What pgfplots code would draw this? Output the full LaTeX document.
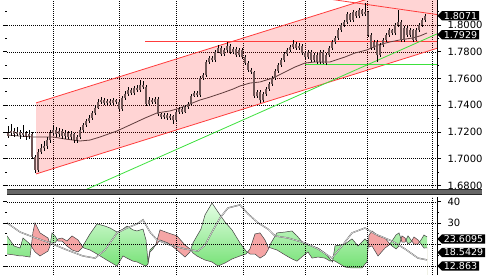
\documentclass[border=0pt]{standalone}
\usepackage{fontspec}
\setmainfont{DejaVu Sans}
\usepackage{pgfplots}
\usepackage{pgfplotstable}
\pgfplotsset{compat=1.18}
\usetikzlibrary{shapes.symbols}
\definecolor{chred}{RGB}{255,60,60}
\definecolor{chgreen}{RGB}{60,225,60}
\definecolor{mabrown}{RGB}{95,60,60}
\definecolor{body}{RGB}{110,85,85}
\definecolor{gtop}{RGB}{228,254,228}
\definecolor{gbot}{RGB}{105,222,105}
\definecolor{dred}{RGB}{245,165,165}

\pgfplotstableread{
x o h l c
8 1.7170 1.7245 1.7155 1.7193
11 1.7193 1.7260 1.7170 1.7208
14 1.7208 1.7230 1.7165 1.7185
17 1.7185 1.7240 1.7170 1.7200
20 1.7200 1.7215 1.7150 1.7178
23 1.7178 1.7253 1.7160 1.7193
26 1.7193 1.7210 1.7140 1.7170
29 1.7170 1.7215 1.7150 1.7185
32 1.7185 1.7200 1.7000 1.7013
35 1.7013 1.7030 1.6893 1.6916
38 1.6916 1.7070 1.6900 1.7051
41 1.7051 1.7110 1.7035 1.7081
44 1.7081 1.7130 1.7060 1.7096
47 1.7096 1.7160 1.7070 1.7140
50 1.7140 1.7215 1.7120 1.7193
53 1.7193 1.7250 1.7180 1.7215
56 1.7215 1.7240 1.7165 1.7185
59 1.7185 1.7230 1.7160 1.7208
62 1.7208 1.7225 1.7150 1.7170
65 1.7170 1.7215 1.7150 1.7193
68 1.7193 1.7205 1.7145 1.7163
71 1.7163 1.7205 1.7140 1.7185
74 1.7185 1.7195 1.7120 1.7140
77 1.7140 1.7180 1.7115 1.7163
80 1.7163 1.7235 1.7150 1.7215
83 1.7215 1.7270 1.7200 1.7253
86 1.7253 1.7300 1.7240 1.7283
89 1.7283 1.7325 1.7270 1.7305
92 1.7305 1.7360 1.7290 1.7343
95 1.7343 1.7400 1.7330 1.7380
98 1.7380 1.7450 1.7370 1.7425
101 1.7425 1.7460 1.7410 1.7440
104 1.7440 1.7455 1.7405 1.7417
107 1.7417 1.7450 1.7400 1.7432
110 1.7432 1.7445 1.7405 1.7417
113 1.7417 1.7455 1.7405 1.7440
116 1.7440 1.7450 1.7410 1.7425
119 1.7425 1.7440 1.7355 1.7373
122 1.7373 1.7470 1.7360 1.7455
125 1.7455 1.7505 1.7440 1.7485
128 1.7485 1.7535 1.7470 1.7515
131 1.7515 1.7530 1.7480 1.7492
134 1.7492 1.7545 1.7480 1.7530
137 1.7530 1.7550 1.7500 1.7515
140 1.7515 1.7590 1.7500 1.7552
143 1.7552 1.7580 1.7525 1.7537
146 1.7537 1.7550 1.7395 1.7410
149 1.7410 1.7460 1.7395 1.7440
152 1.7440 1.7455 1.7410 1.7425
155 1.7425 1.7465 1.7410 1.7447
158 1.7447 1.7460 1.7320 1.7335
161 1.7335 1.7345 1.7295 1.7313
164 1.7313 1.7340 1.7295 1.7328
167 1.7328 1.7340 1.7290 1.7305
170 1.7305 1.7335 1.7290 1.7320
173 1.7320 1.7330 1.7260 1.7290
176 1.7290 1.7365 1.7275 1.7350
179 1.7350 1.7390 1.7335 1.7373
182 1.7373 1.7385 1.7335 1.7350
185 1.7350 1.7400 1.7340 1.7387
188 1.7387 1.7425 1.7375 1.7410
191 1.7410 1.7485 1.7400 1.7470
194 1.7470 1.7510 1.7460 1.7492
197 1.7492 1.7505 1.7465 1.7477
200 1.7477 1.7620 1.7465 1.7605
203 1.7605 1.7645 1.7590 1.7627
206 1.7627 1.7740 1.7615 1.7725
209 1.7725 1.7770 1.7710 1.7755
212 1.7755 1.7770 1.7725 1.7740
215 1.7740 1.7815 1.7725 1.7800
218 1.7800 1.7852 1.7790 1.7830
221 1.7830 1.7845 1.7770 1.7785
224 1.7785 1.7830 1.7770 1.7815
227 1.7815 1.7875 1.7800 1.7845
230 1.7845 1.7860 1.7785 1.7800
233 1.7800 1.7840 1.7785 1.7822
236 1.7822 1.7835 1.7760 1.7777
239 1.7777 1.7830 1.7765 1.7815
242 1.7815 1.7830 1.7750 1.7762
245 1.7762 1.7775 1.7700 1.7717
248 1.7717 1.7730 1.7650 1.7665
251 1.7665 1.7680 1.7635 1.7650
254 1.7650 1.7660 1.7455 1.7470
257 1.7470 1.7515 1.7455 1.7500
260 1.7500 1.7515 1.7417 1.7440
263 1.7440 1.7500 1.7425 1.7485
266 1.7485 1.7540 1.7470 1.7522
269 1.7522 1.7575 1.7510 1.7560
272 1.7560 1.7620 1.7545 1.7605
275 1.7605 1.7675 1.7590 1.7657
278 1.7657 1.7720 1.7645 1.7702
281 1.7702 1.7755 1.7690 1.7740
284 1.7740 1.7800 1.7725 1.7785
287 1.7785 1.7830 1.7770 1.7815
290 1.7815 1.7855 1.7800 1.7837
293 1.7837 1.7890 1.7825 1.7860
296 1.7860 1.7875 1.7815 1.7830
299 1.7830 1.7865 1.7815 1.7845
302 1.7845 1.7860 1.7780 1.7792
305 1.7792 1.7805 1.7745 1.7762
308 1.7762 1.7815 1.7745 1.7800
311 1.7800 1.7815 1.7725 1.7740
314 1.7740 1.7795 1.7725 1.7777
317 1.7777 1.7790 1.7710 1.7725
320 1.7725 1.7815 1.7710 1.7800
323 1.7800 1.7815 1.7710 1.7717
326 1.7717 1.7790 1.7705 1.7777
329 1.7777 1.7845 1.7765 1.7830
332 1.7830 1.7890 1.7815 1.7875
335 1.7875 1.7920 1.7860 1.7905
338 1.7905 1.7980 1.7890 1.7965
341 1.7965 1.8020 1.7950 1.8002
344 1.8002 1.8040 1.7990 1.8025
347 1.8025 1.8100 1.8010 1.8084
350 1.8084 1.8095 1.8025 1.8040
353 1.8040 1.8115 1.8025 1.8099
356 1.8099 1.8110 1.8055 1.8069
359 1.8069 1.8130 1.8055 1.8114
362 1.8114 1.8125 1.8070 1.8084
365 1.8084 1.8167 1.8070 1.8099
368 1.8099 1.8110 1.7910 1.7927
371 1.7927 1.7940 1.7815 1.7830
374 1.7830 1.7890 1.7815 1.7875
377 1.7875 1.7890 1.7725 1.7777
380 1.7777 1.7865 1.7760 1.7852
383 1.7852 1.7905 1.7840 1.7890
386 1.7890 1.7945 1.7875 1.7927
389 1.7927 1.7980 1.7915 1.7965
392 1.7965 1.7975 1.7930 1.7942
395 1.7942 1.8015 1.7930 1.8002
398 1.8002 1.8114 1.7990 1.8025
401 1.8025 1.8040 1.7875 1.7890
404 1.7890 1.7995 1.7875 1.7980
407 1.7980 1.7995 1.7915 1.7927
410 1.7927 1.7980 1.7915 1.7965
413 1.7965 1.7975 1.7875 1.7890
416 1.7890 1.7980 1.7880 1.7965
419 1.7965 1.8015 1.7950 1.8002
422 1.8002 1.8055 1.7990 1.8040
425 1.8040 1.8085 1.8025 1.8071
}\ohlc

\pgfplotstableread{
x ma
7 1.7178
20 1.7170
33 1.7163
53 1.7163
65 1.7148
80 1.7133
90 1.7140
100 1.7163
117 1.7208
130 1.7253
145 1.7305
157 1.7343
170 1.7358
180 1.7380
190 1.7410
200 1.7440
210 1.7462
222 1.7492
233 1.7522
240 1.7545
250 1.7567
260 1.7575
273 1.7605
285 1.7650
295 1.7687
305 1.7717
315 1.7725
330 1.7725
345 1.7762
355 1.7792
367 1.7815
378 1.7852
390 1.7875
400 1.7890
413 1.7905
420 1.7920
427 1.7942
}\matab

\pgfplotstableread{
x a b
7 24.1 15.6
14 19.4 15.2
20 18.4 14.7
23 23.1 14.7
30 20.3 14.2
33 18.0 25.9
35 16.6 30.2
40 14.7 25.5
48 17.0 23.1
50 19.4 20.3
52 25.5 20.8
55 24.1 20.8
58 21.7 22.7
62 21.7 23.1
67 19.4 21.7
72 17.5 24.1
78 16.6 22.2
82 18.4 19.4
84 20.3 18.4
90 25.0 17.5
97 29.7 15.6
105 28.7 13.3
110 27.8 11.9
117 25.9 10.0
123 27.3 14.7
127 28.7 13.7
133 26.9 12.3
137 26.4 11.9
143 27.3 10.5
146 22.2 10.0
148 11.9 10.9
150 17.5 16.6
153 18.9 18.0
156 19.8 20.3
160 22.2 26.9
168 20.8 25.5
177 17.5 24.1
185 14.2 19.8
190 16.6 18.0
193 20.8 16.1
197 24.1 14.7
201 27.3 13.7
205 33.9 12.8
212 39.5 11.9
218 35.3 10.0
225 30.6 11.4
232 26.9 13.3
240 20.8 14.7
246 17.0 15.6
250 15.6 18.0
255 15.6 25.0
260 13.7 25.5
265 15.2 22.2
268 17.5 18.9
271 20.8 18.4
277 25.5 17.5
285 25.9 15.2
292 26.4 13.3
297 24.1 12.3
303 20.8 14.7
308 19.8 16.6
312 19.4 13.7
318 18.4 14.2
325 16.1 13.7
330 13.3 12.3
332.5 11.9 12.8
335 19.4 12.3
340 19.8 10.9
345 20.3 9.5
352 22.7 9.1
358 19.4 9.1
362 21.2 9.1
365 22.7 10.9
367 21.7 11.9
369 18.9 24.5
372 19.4 26.4
378 14.7 24.1
385 18.4 23.1
389 19.8 20.8
392 21.7 19.4
396 24.5 18.0
399 25.5 19.4
402 21.2 24.1
405 21.2 23.1
408 24.1 20.3
411 22.2 21.2
414 20.3 23.6
418 20.3 22.2
421 22.2 20.3
424 24.5 18.4
427 23.61 18.54
}\dmi

% lower of the two lines, with the crossing points
\pgfplotstableread{
x m
7 15.6
14 15.2
20 14.7
23 14.7
30 14.2
31.31 19.30
33 18.0
35 16.6
40 14.7
48 17.0
50 19.4
50.32 20.38
52 20.8
55 20.8
57.30 22.26
58 21.7
62 21.7
67 19.4
72 17.5
78 16.6
82 18.4
82.69 19.06
84 18.4
90 17.5
97 15.6
105 13.3
110 11.9
117 10.0
123 14.7
127 13.7
133 12.3
137 11.9
143 10.5
146 10.0
148 10.9
150 16.6
153 18.0
154.93 19.48
156 19.8
160 22.2
168 20.8
177 17.5
185 14.2
190 16.6
190.69 17.56
193 16.1
197 14.7
201 13.7
205 12.8
212 11.9
218 10.0
225 11.4
232 13.3
240 14.7
246 15.6
247.47 16.48
250 15.6
255 15.6
260 13.7
265 15.2
268 17.5
269.11 18.71
271 18.4
277 17.5
285 15.2
292 13.3
297 12.3
303 14.7
308 16.6
312 13.7
318 14.2
325 13.7
330 12.3
331.32 12.56
332.5 11.9
332.78 12.74
335 12.3
340 10.9
345 9.5
352 9.1
358 9.1
362 9.1
365 10.9
367 11.9
368.27 19.92
369 18.9
372 19.4
378 14.7
385 18.4
389 19.8
389.91 20.38
392 19.4
396 18.0
399 19.4
401.03 22.58
402 21.2
405 21.2
406.0 22.17
408 20.3
411 21.2
411.70 21.76
414 20.3
418 20.3
419.5 21.25
421 20.3
424 18.4
427 18.54
}\dmimin

\pgfplotstableread{
x adx
7 30.2
20 25.9
33 23.6
50 20.8
67 17.5
83 14.7
95 13.7
105 17.5
117 25.5
127 27.8
137 29.7
143 31.6
150 25.9
157 22.2
170 19.8
185 18.0
198 17.0
205 19.8
212 25.9
220 32.5
228 37.2
240 38.6
248 34.4
258 30.2
268 27.3
275 24.1
288 23.1
305 20.8
318 18.0
332 13.7
342 19.4
352 25.5
365 27.8
375 25.0
392 21.7
405 18.0
418 13.7
427 12.86
}\adxtab

\pgfplotsset{
  chartax/.style={
    scale only axis, anchor=south west, width=430pt, xmin=7, xmax=437,
    axis line style={draw=none},
    xtick={53,119,176,243,305,367,432}, xticklabels={}, xtick style={draw=none},
    yticklabel pos=right, ytick align=outside,
    ytick style={black, line width=1pt}, major tick length=4pt, minor tick length=2pt,
    yticklabel style={font=\fontsize{10}{12}\selectfont, xshift=3pt},
    grid=major, grid style={black, line width=0.6pt, dash pattern=on 1pt off 1pt},
    clip=true,
  }
}

\begin{document}
\begin{tikzpicture}[x=1pt,y=1pt]
\path[use as bounding box, clip] (0,0) rectangle (487,275);
\fill[white] (0,0) rectangle (487,275);

% price panel
\begin{axis}[chartax, at={(7pt,85pt)}, height=190pt,
  ymin=1.6766, ymax=1.8189,
  ytick={1.68,1.70,1.72,1.74,1.76,1.78,1.80},
  yticklabels={1.6800,1.7000,1.7200,1.7400,1.7600,1.7800,1.8000},
  minor ytick={1.69,1.71,1.73,1.75,1.77,1.79,1.81},
]
\addplot[fill=red, fill opacity=0.17, draw=none] coordinates {(36,1.7418) (437,1.8359) (437,1.7827) (36,1.6886)} -- cycle;
\addplot[chred, line width=0.8pt] coordinates {(36,1.7418) (437,1.8359)};
\addplot[chred, line width=0.8pt] coordinates {(36,1.6886) (437,1.7827)};
\addplot[chred, line width=0.8pt] coordinates {(330,1.8195) (437,1.8080)};
\addplot[chred, line width=0.8pt] coordinates {(145,1.7882) (437,1.7882)};
\addplot[chgreen, line width=0.8pt] coordinates {(85,1.6766) (437,1.7935)};
\addplot[chgreen, line width=0.8pt] coordinates {(305,1.7710) (437,1.7710)};
\addplot[mabrown, line width=0.8pt] table[x=x,y=ma]{\matab};
% wicks
\addplot[draw=none, mark=none, error bars/.cd, y dir=both, y explicit, error mark=none,
  error bar style={draw=black, line width=0.6pt}]
  table[x=x, y=c, y error plus expr=\thisrow{h}-\thisrow{c}, y error minus expr=\thisrow{c}-\thisrow{l}]{\ohlc};
% bodies (outline, then fill)
\addplot[draw=none, mark=none, error bars/.cd, y dir=both, y explicit, error mark=none,
  error bar style={draw=black!85, line width=2.4pt}]
  table[x=x, y=c, y error plus expr={max(\thisrow{o}-\thisrow{c},0)}, y error minus expr={max(\thisrow{c}-\thisrow{o},0)}]{\ohlc};
\addplot[draw=none, mark=none, error bars/.cd, y dir=both, y explicit, error mark=none,
  error bar style={draw=body, line width=1.2pt}]
  table[x=x, y=c, y error plus expr={max(\thisrow{o}-\thisrow{c},0)}, y error minus expr={max(\thisrow{c}-\thisrow{o},0)}]{\ohlc};
\coordinate (p1) at (axis cs:437,1.8071);
\coordinate (p2) at (axis cs:437,1.7929);
\end{axis}
\draw[black, line width=0.8pt] (437,85) -- (437,275);

% separator
\fill[black!60] (7,80) rectangle (482,85.5);
\draw[black!85, line width=0.6pt] (7,80.3) -- (482,80.3) (7,85.2) -- (482,85.2);

% indicator panel
\begin{axis}[chartax, at={(7pt,0pt)}, height=78pt,
  ymin=5.8, ymax=42.3, axis on top,
  ytick={10,20,30,40}, yticklabels={,,30,40},
  minor ytick={15,25,35},
]
\addplot[top color=gtop, bottom color=gbot, draw=none] table[x=x,y=a]{\dmi} \closedcycle;
\addplot[fill=dred, draw=none] table[x=x,y=b]{\dmi} \closedcycle;
\addplot[fill=white, draw=none] table[x=x,y=m]{\dmimin} \closedcycle;
\addplot[black!75, line width=0.5pt] table[x=x,y=a]{\dmi};
\addplot[black!75, line width=0.5pt] table[x=x,y=b]{\dmi};
\addplot[black!60, line width=1.3pt] table[x=x,y=adx]{\adxtab};
\addplot[white, line width=0.4pt] table[x=x,y=adx]{\adxtab};
\coordinate (q1) at (axis cs:437,22.65);
\coordinate (q2) at (axis cs:437,16.33);
\coordinate (q3) at (axis cs:437,10.01);
\end{axis}
\draw[black, line width=0.8pt] (437,0) -- (437,78);

\tikzset{pricebox/.style={signal, signal to=west, fill=black, text=white, inner xsep=2pt, inner ysep=1pt, anchor=west, font=\fontsize{9.5}{10}\selectfont}}
\node[pricebox] at (p1) {1.8071};
\node[pricebox] at (p2) {1.7929};
\node[pricebox] at (q1) {23.6095};
\node[pricebox] at (q2) {18.5429};
\node[pricebox] at (q3) {12.863};
\end{tikzpicture}
\end{document}
